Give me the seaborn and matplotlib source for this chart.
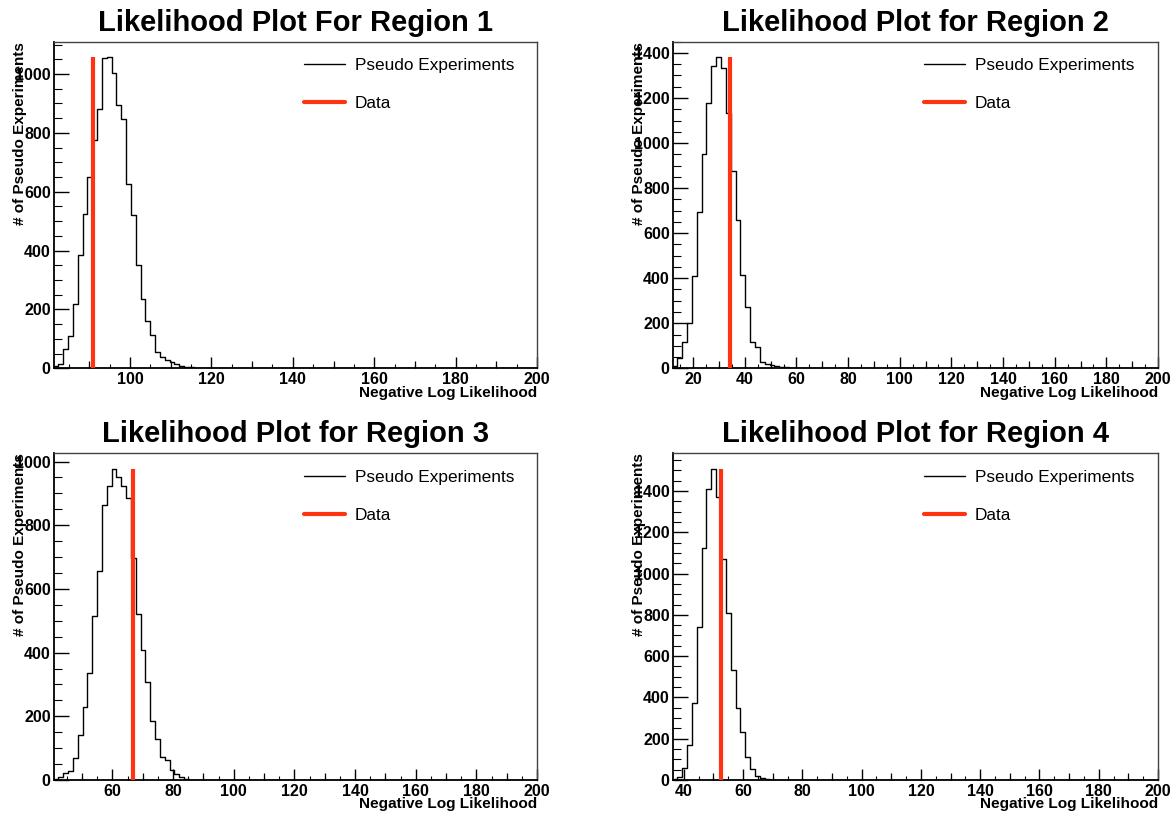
import numpy as np
import pandas as pd
import matplotlib
matplotlib.use("Agg")
import matplotlib.pyplot as plt
from matplotlib.lines import Line2D
from matplotlib.ticker import MultipleLocator
import seaborn as sns

sns.set_style("ticks")
plt.rcParams["font.family"] = ["Liberation Sans", "DejaVu Sans"]
plt.rcParams["text.color"] = "black"
plt.rcParams["axes.labelcolor"] = "black"
plt.rcParams["xtick.color"] = "black"
plt.rcParams["ytick.color"] = "black"

# ---- data -------------------------------------------------------------
titles = [
    "Likelihood Plot For Region 1",
    "Likelihood Plot for Region 2",
    "Likelihood Plot for Region 3",
    "Likelihood Plot for Region 4",
]
# lower edge of each histogram range (upper edge is 200), 100 bins each
range_low = [81.2, 12.0, 40.6, 36.2]
range_high = 200.0
n_bins = 100

# pseudo-experiment counts per bin, starting from the first bin
counts_region1 = [8, 13, 64, 109, 220, 386, 524, 650, 775, 880, 1055, 1057,
                  1003, 894, 846, 625, 520, 350, 236, 160, 113, 57, 37, 28,
                  20, 14, 8, 5, 3, 2, 1]
counts_region2 = [12, 44, 118, 199, 408, 693, 950, 1179, 1341, 1381, 1334,
                  1132, 877, 659, 413, 273, 118, 96, 30, 18, 13, 9, 6, 4, 3,
                  2, 1, 1]
counts_region3 = [4, 9, 23, 28, 70, 140, 228, 336, 516, 656, 862, 923, 977,
                  953, 923, 885, 696, 521, 409, 308, 185, 129, 72, 62, 30,
                  18, 9, 2, 1]
counts_region4 = [5, 13, 56, 170, 375, 743, 1122, 1408, 1507, 1369, 1069,
                  811, 533, 350, 231, 110, 52, 19, 11, 5, 2, 1]
all_counts = [counts_region1, counts_region2, counts_region3, counts_region4]

# observed negative log likelihood in data
data_nll = [91.0, 34.3, 66.8, 52.7]

series_labels = ["Pseudo Experiments", "Data"]
x_label = "Negative Log Likelihood"
y_label = "# of Pseudo Experiments"

# ---- style ------------------------------------------------------------
data_color = "#ff3311"
W, H = 1174, 818
# axes boxes in pixels: left, top, right, bottom
boxes = [
    (53.5, 41.7, 537.0, 368.3),
    (672.5, 41.7, 1158.0, 368.3),
    (53.5, 453.3, 537.0, 780.0),
    (672.5, 453.3, 1158.0, 780.0),
]

fig = plt.figure(figsize=(W / 100, H / 100), dpi=100)

for i in range(4):
    l, t, r, b = boxes[i]
    ax = fig.add_axes([l / W, 1 - b / H, (r - l) / W, (b - t) / H])

    edges = np.linspace(range_low[i], range_high, n_bins + 1)
    centers = 0.5 * (edges[:-1] + edges[1:])
    counts = np.zeros(n_bins)
    counts[:len(all_counts[i])] = all_counts[i]
    frame = pd.DataFrame({"nll": centers, "count": counts})

    sns.histplot(data=frame, x="nll", weights="count", bins=list(edges),
                 element="step", fill=False, color="black", linewidth=1.0,
                 ax=ax)

    peak = counts.max()
    ax.vlines(data_nll[i], 0, peak, color=data_color, linewidth=3.0, zorder=3)

    ax.set_xlim(range_low[i], range_high)
    ax.set_ylim(0, peak * 1.05)

    # ticks: inward, ROOT-like
    ax.xaxis.set_major_locator(MultipleLocator(20))
    ax.xaxis.set_minor_locator(MultipleLocator(5))
    ax.yaxis.set_major_locator(MultipleLocator(200))
    ax.yaxis.set_minor_locator(MultipleLocator(50))
    ax.tick_params(axis="both", which="both", direction="in",
                   top=False, right=False, color="black")
    ax.tick_params(axis="x", which="major", length=8, width=1.0, pad=3)
    ax.tick_params(axis="x", which="minor", length=3, width=0.8)
    ax.tick_params(axis="y", which="major", length=11, width=1.0, pad=2)
    ax.tick_params(axis="y", which="minor", length=5.5, width=0.8)
    for lab in ax.get_xticklabels() + ax.get_yticklabels():
        lab.set_fontweight("bold")
        lab.set_fontsize(11.5)

    # medium ticks at every 10
    sec = ax.secondary_xaxis("bottom")
    mids = [v for v in np.arange(0, 201, 10) if v % 20 != 0]
    sec.set_xticks(mids)
    sec.set_xticklabels([])
    sec.tick_params(axis="x", direction="in", length=5, width=0.9)
    sec.spines["bottom"].set_visible(False)

    for side in ["left", "bottom"]:
        ax.spines[side].set_linewidth(1.3)
        ax.spines[side].set_color("black")
    for side in ["top", "right"]:
        ax.spines[side].set_linewidth(1.0)
        ax.spines[side].set_color("#444444")
        ax.spines[side].set_visible(True)

    ax.set_title(titles[i], fontsize=21, fontweight="bold", pad=8,
                 color="black")
    ax.set_xlabel(x_label, fontsize=11.1, fontweight="bold", loc="right")
    ax.set_ylabel(y_label, fontsize=11.0, fontweight="bold", loc="top")
    ax.yaxis.set_label_coords(-0.055, 1.0)
    ax.xaxis.set_label_coords(1.0, -0.053)

    handles = [Line2D([], [], color="black", linewidth=1.0),
               Line2D([], [], color=data_color, linewidth=3.0)]
    leg = ax.legend(handles, series_labels, loc="upper left",
                    bbox_to_anchor=(0.518, 0.95), frameon=False,
                    fontsize=12.4, handlelength=2.4, handletextpad=0.55,
                    labelspacing=1.33, borderpad=0, borderaxespad=0)
    for txt in leg.get_texts():
        txt.set_color("black")

fig.savefig("out.png", dpi=100)
